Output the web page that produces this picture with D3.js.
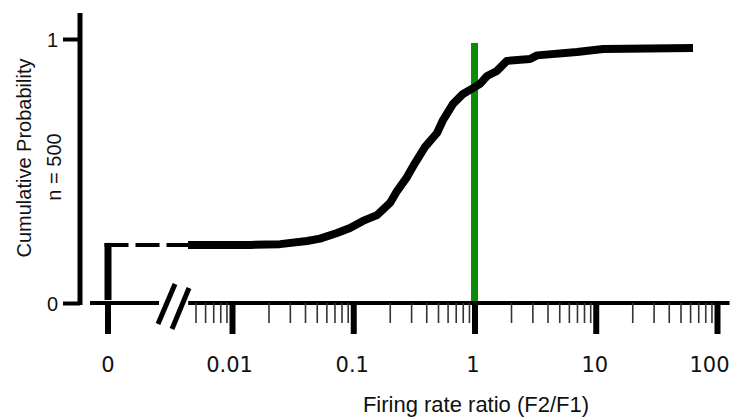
<!DOCTYPE html>
<html><head><meta charset="utf-8">
<script src="https://cdn.jsdelivr.net/npm/d3@7"></script>
<style>body{margin:0;background:#fff}</style></head><body>
<svg id="c" width="739" height="419"></svg>
<script>
// ---- data ----
const ratio   = [0.00434, 0.0141, 0.0249, 0.0416, 0.0532, 0.0735, 0.094, 0.1203, 0.157, 0.201, 0.2296, 0.2775, 0.323, 0.391, 0.491, 0.550, 0.665, 0.804, 0.973, 1.11, 1.27, 1.53, 1.85, 2.87, 3.28, 7.00, 11.5, 63.4];
const cumProb = [0.220, 0.220, 0.223, 0.235, 0.244, 0.265, 0.284, 0.311, 0.333, 0.379, 0.424, 0.477, 0.530, 0.591, 0.644, 0.693, 0.754, 0.792, 0.814, 0.830, 0.860, 0.879, 0.917, 0.924, 0.938, 0.951, 0.962, 0.966];
const zeroFraction = 0.22;
const majorTicks  = [0.01, 0.1, 1, 10, 100];
const majorLabels = ["0.01", "0.1", "1", "10", "100"];
const minorTicks  = [0.005,0.006,0.007,0.008,0.009, 0.02,0.03,0.04,0.05,0.06,0.07,0.08,0.09, 0.2,0.3,0.4,0.5,0.6,0.7,0.8,0.9, 2,3,4,5,6,7,8,9, 20,30,40,50,60,70,80,90];
const yTicks = [0, 1];
const yTickLabels = ["0", "1"];
const zeroLabel = "0";
const referenceRatio = 1;
const axisRange = [0.00435, 127];
const yTitle = "Cumulative Probability";
const ySubtitle = "n = 500";
const xTitle = "Firing rate ratio (F2/F1)";

// ---- layout ----
const svg = d3.select("#c");
const x = d3.scaleLog().domain([0.01, 100]).range([232, 717]);
const y = d3.scaleLinear().domain([0, 1]).range([303, 39]);
const xZero = 108;
const axisY = y(0);
const labelShift = [-3, -1.5, -2, -1.5, -8];

// y axis
svg.append("line").attr("x1", 80).attr("x2", 80).attr("y1", 13).attr("y2", 305)
  .attr("stroke", "#000").attr("stroke-width", 5);
const ya = svg.append("g").attr("transform", "translate(80,0)")
  .call(d3.axisLeft(y).tickValues(yTicks).tickSize(17).tickPadding(0).tickFormat((d, i) => yTickLabels[i]));
ya.select(".domain").remove();
ya.selectAll(".tick line").attr("stroke", "#000").attr("stroke-width", 4);
ya.selectAll(".tick text").attr("x", -22).attr("dy", "0.36em")
  .style("font-family", "'Liberation Sans', Arial, sans-serif").style("font-size", "20px").attr("fill", "#111");

// x axis left (zero) part
svg.append("line").attr("x1", 90).attr("x2", 159).attr("y1", axisY).attr("y2", axisY)
  .attr("stroke", "#000").attr("stroke-width", 4);
svg.append("line").attr("x1", xZero).attr("x2", xZero).attr("y1", axisY).attr("y2", axisY + 31)
  .attr("stroke", "#000").attr("stroke-width", 6);
svg.append("text").attr("x", xZero).attr("y", axisY + 69).attr("text-anchor", "middle")
  .style("font-family", "'DejaVu Sans', Verdana, sans-serif").style("font-size", "21px").attr("fill", "#111")
  .text(zeroLabel);

// break marks
svg.append("line").attr("x1", 158).attr("y1", 324).attr("x2", 175).attr("y2", 284)
  .attr("stroke", "#000").attr("stroke-width", 5);
svg.append("line").attr("x1", 172).attr("y1", 329).attr("x2", 189).attr("y2", 288)
  .attr("stroke", "#000").attr("stroke-width", 5);

// x axis log part
svg.append("line").attr("x1", x(axisRange[0])).attr("x2", x(axisRange[1])).attr("y1", axisY).attr("y2", axisY)
  .attr("stroke", "#000").attr("stroke-width", 4);
const xm = svg.append("g").attr("transform", `translate(0,${axisY})`)
  .call(d3.axisBottom(x).tickValues(minorTicks).tickSize(20).tickFormat(""));
xm.select(".domain").remove();
xm.selectAll(".tick line").attr("stroke", "#333").attr("stroke-width", 1.6);
const xa = svg.append("g").attr("transform", `translate(0,${axisY})`)
  .call(d3.axisBottom(x).tickValues(majorTicks).tickSize(31).tickFormat((d, i) => majorLabels[i]));
xa.select(".domain").remove();
xa.selectAll(".tick line").attr("stroke", "#000").attr("stroke-width", 6);
xa.selectAll(".tick text").attr("y", 69).attr("dy", 0).attr("x", (d, i) => labelShift[i])
  .style("font-family", "'DejaVu Sans', Verdana, sans-serif").style("font-size", "21px").attr("fill", "#111");

// reference line
svg.append("line").attr("x1", x(referenceRatio)).attr("x2", x(referenceRatio)).attr("y1", 43).attr("y2", 301)
  .attr("stroke", "#0a8c0a").attr("stroke-width", 7);

// zero jump + dashed connector
svg.append("line").attr("x1", xZero).attr("x2", xZero).attr("y1", axisY - 3).attr("y2", y(zeroFraction) - 2)
  .attr("stroke", "#000").attr("stroke-width", 7);
svg.append("line").attr("x1", xZero - 3.5).attr("x2", x(ratio[0])).attr("y1", y(zeroFraction)).attr("y2", y(zeroFraction))
  .attr("stroke", "#000").attr("stroke-width", 4).attr("stroke-dasharray", "24,7");

// CDF curve
const pts = ratio.map((r, i) => [r, cumProb[i]]);
svg.append("path").datum(pts)
  .attr("d", d3.line().x(d => x(d[0])).y(d => y(d[1])))
  .attr("fill", "none").attr("stroke", "#000").attr("stroke-width", 8)
  .attr("stroke-linejoin", "round").attr("stroke-linecap", "butt");

// titles
svg.append("text").attr("transform", "translate(31,158) rotate(-90)").attr("text-anchor", "middle")
  .style("font-family", "'Liberation Sans', Arial, sans-serif").style("font-size", "20px").attr("fill", "#111")
  .text(yTitle);
svg.append("text").attr("transform", "translate(61,167) rotate(-90)").attr("text-anchor", "middle")
  .style("font-family", "'Liberation Sans', Arial, sans-serif").style("font-size", "20px").attr("fill", "#111")
  .text(ySubtitle);
svg.append("text").attr("x", 476).attr("y", 412).attr("text-anchor", "middle")
  .style("font-family", "'Liberation Sans', Arial, sans-serif").style("font-size", "22px").attr("fill", "#111")
  .text(xTitle);
</script>
</body></html>
